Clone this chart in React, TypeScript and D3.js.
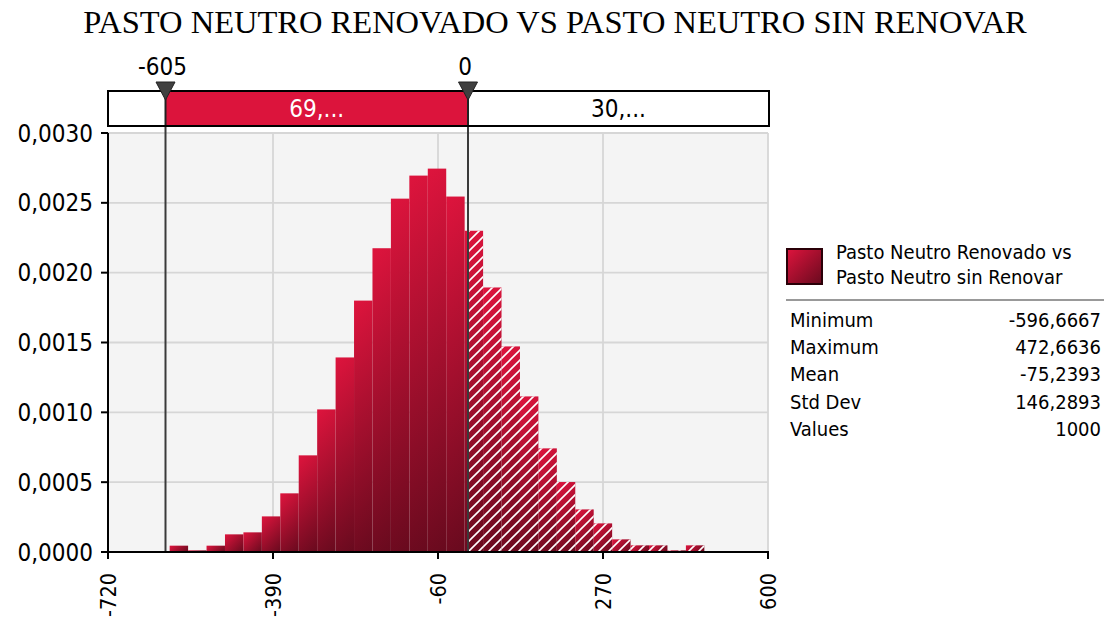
import React from 'react';
import * as d3 from 'd3';

const title = 'PASTO NEUTRO RENOVADO VS PASTO NEUTRO SIN RENOVAR';
const seriesName = ['Pasto Neutro Renovado vs', 'Pasto Neutro sin Renovar'];
// densities per bin (29 equal bins between minimum and maximum)
const densities = [
  0.0000453, 0.0000119, 0.0000453, 0.0001264, 0.0001407, 0.000255, 0.00042, 0.000692,
  0.001021, 0.001393, 0.0018, 0.002175, 0.00253, 0.002695, 0.002745, 0.002545, 0.0023,
  0.001894, 0.001472, 0.001114, 0.000742, 0.000501, 0.000305, 0.000205, 0.0000906,
  0.0000477, 0.0000477, 0.0000119, 0.0000477,
];
const minimum = -596.6667;
const maximum = 472.6636;
const xTicks = [-720, -390, -60, 270, 600];
const yTicks = [0, 0.0005, 0.001, 0.0015, 0.002, 0.0025, 0.003];
const markers = [-605, 0];
const bandLabels = ['69,...', '30,...'];
const statNames = ['Minimum', 'Maximum', 'Mean', 'Std Dev', 'Values'];
const statValues = ['-596,6667', '472,6636', '-75,2393', '146,2893', '1000'];

const FONT = "'DejaVu Sans Condensed', 'DejaVu Sans', sans-serif";
const BRIGHT = '#DE143D';
const DARK = '#680A1E';

export default function App() {
  const left = 108, right = 768, top = 133, bottom = 552;
  const x = d3.scaleLinear().domain([-720, 600]).range([left, right]);
  const y = d3.scaleLinear().domain([0, 0.003]).range([bottom, top]);
  const bin = d3.scaleLinear().domain([0, densities.length]).range([minimum, maximum]);
  const loc = d3.formatLocale({ decimal: ',', thousands: '.', grouping: [3], currency: ['', ''], minus: '-' });
  const fmtY = loc.format('.4f');
  const fmtX = loc.format('d');

  const bars = densities.map((d, i) => ({ x0: x(bin(i)), x1: x(bin(i + 1)), y: y(d) }));
  const split = x(markers[1]);
  const bandTop = 91, bandBot = 126, bandRight = 769;

  return (
    <svg width={1107} height={624} style={{ position: 'absolute', left: 0, top: 0, background: '#fff' }}>
      <defs>
        <linearGradient id="legGrad" x1="0" y1="0" x2="1" y2="1">
          <stop offset="0" stopColor={BRIGHT} />
          <stop offset="1" stopColor={DARK} />
        </linearGradient>
        {bars.map((b, i) => {
          const L = (b.x1 - b.x0 + (bottom - b.y)) / 2;
          return (
            <linearGradient key={'g' + i} id={'bg' + i} gradientUnits="userSpaceOnUse" x1={b.x0} y1={b.y} x2={b.x0 + L} y2={b.y + L}>
              <stop offset="0" stopColor={BRIGHT} />
              <stop offset="1" stopColor={DARK} />
            </linearGradient>
          );
        })}
        <pattern id="hatch" patternUnits="userSpaceOnUse" width={10} height={10}>
          <path d="M-5,5 L5,-5 M0,10 L10,0 M5,15 L15,5" stroke="#fff" strokeWidth={1.6} />
        </pattern>
      </defs>

      <text x={555} y={33} textAnchor="middle" fontFamily="'Liberation Serif', 'Times New Roman', serif" fontSize={32.5}>
        {title}
      </text>

      {/* plot background */}
      <rect x={left} y={top} width={right - left} height={bottom - top} fill="#F4F4F4" />
      {yTicks.map((t) => (
        <line key={'gy' + t} x1={left} x2={right} y1={y(t)} y2={y(t)} stroke="#D6D6D6" strokeWidth={1.8} />
      ))}
      {xTicks.map((t) => (
        <line key={'gx' + t} x1={x(t)} x2={x(t)} y1={top} y2={bottom} stroke="#D6D6D6" strokeWidth={1.8} />
      ))}

      {/* bars */}
      {bars.map((b, i) => (
        <rect key={'b' + i} x={b.x0} y={b.y} width={b.x1 - b.x0} height={bottom - b.y} fill={`url(#bg${i})`} />
      ))}
      {bars.map((b, i) =>
        b.x1 > split ? (
          <rect key={'h' + i} x={Math.max(b.x0, split)} y={b.y} width={b.x1 - Math.max(b.x0, split)} height={bottom - b.y} fill="url(#hatch)" />
        ) : null
      )}

      {/* marker lines */}
      {markers.map((m) => (
        <line key={'ml' + m} x1={x(m)} x2={x(m)} y1={bandTop} y2={bottom} stroke="#3A3A3A" strokeWidth={2} />
      ))}

      {/* axes */}
      <line x1={left} x2={left} y1={top} y2={bottom + 1} stroke="#000" strokeWidth={2} />
      <line x1={left} x2={right + 1} y1={bottom} y2={bottom} stroke="#000" strokeWidth={2} />
      {yTicks.map((t) => (
        <g key={'yt' + t}>
          <line x1={left - 7} x2={left} y1={y(t)} y2={y(t)} stroke="#000" strokeWidth={2} />
          <text x={left - 15} y={y(t)} dy="0.36em" textAnchor="end" fontFamily={FONT} fontSize={24}>
            {fmtY(t)}
          </text>
        </g>
      ))}
      {xTicks.map((t) => (
        <g key={'xt' + t}>
          <line x1={x(t)} x2={x(t)} y1={bottom} y2={bottom + 7} stroke="#000" strokeWidth={2} />
          <text transform={`translate(${x(t)},${bottom + 21}) rotate(-90)`} dy="0.36em" textAnchor="end" fontFamily={FONT} fontSize={21.5}>
            {fmtX(t)}
          </text>
        </g>
      ))}

      {/* top band */}
      <rect x={left} y={bandTop} width={bandRight - left} height={bandBot - bandTop} fill="#fff" />
      <rect x={x(markers[0])} y={bandTop} width={x(markers[1]) - x(markers[0])} height={bandBot - bandTop} fill="#DC143C" />
      {markers.map((m) => (
        <line key={'bl' + m} x1={x(m)} x2={x(m)} y1={bandTop} y2={bandBot} stroke="#222" strokeWidth={2} />
      ))}
      <rect x={left} y={bandTop} width={bandRight - left} height={bandBot - bandTop} fill="none" stroke="#000" strokeWidth={2} />
      <text x={(x(markers[0]) + x(markers[1])) / 2} y={117} textAnchor="middle" fill="#fff" fontFamily={FONT} fontSize={24}>
        {bandLabels[0]}
      </text>
      <text x={(x(markers[1]) + bandRight) / 2} y={117} textAnchor="middle" fill="#000" fontFamily={FONT} fontSize={24}>
        {bandLabels[1]}
      </text>
      {markers.map((m) => (
        <g key={'mk' + m}>
          <path d={`M${x(m) - 9.5},82 L${x(m) + 9.5},82 L${x(m)},100 Z`} fill="#404040" stroke="#222" strokeWidth={1} />
          <text x={x(m) - 3} y={75} textAnchor="middle" fontFamily={FONT} fontSize={24}>
            {fmtX(m)}
          </text>
        </g>
      ))}

      {/* legend */}
      <rect x={787} y={249} width={35} height={35} fill="url(#legGrad)" stroke="#2a0008" strokeWidth={2} />
      {seriesName.map((s, i) => (
        <text key={'ln' + i} x={836} y={259 + i * 25} fontFamily={FONT} fontSize={20}>
          {s}
        </text>
      ))}
      <line x1={786} x2={1104} y1={300} y2={300} stroke="#999" strokeWidth={2} />
      {statNames.map((s, i) => (
        <g key={'st' + i}>
          <text x={790} y={327 + i * 27.2} fontFamily={FONT} fontSize={20}>
            {s}
          </text>
          <text x={1101} y={327 + i * 27.2} textAnchor="end" fontFamily={FONT} fontSize={20}>
            {statValues[i]}
          </text>
        </g>
      ))}
    </svg>
  );
}
